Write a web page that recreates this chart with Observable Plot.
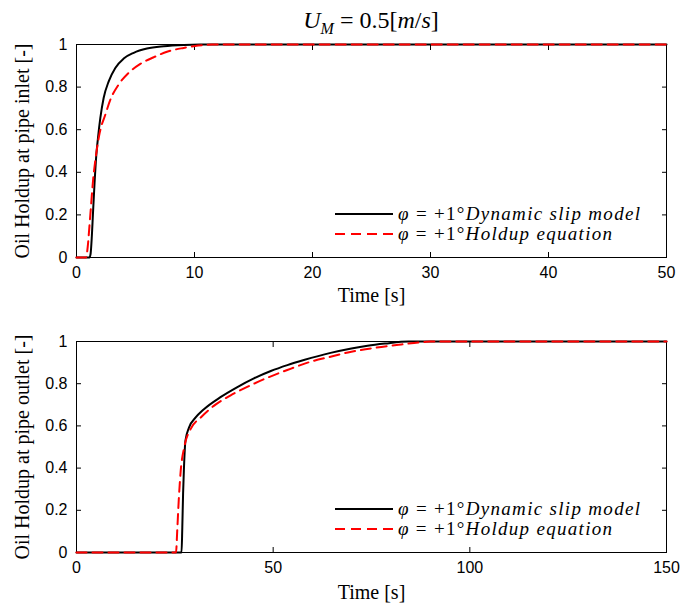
<!DOCTYPE html>
<html>
<head>
<meta charset="utf-8">
<script src="https://cdn.jsdelivr.net/npm/d3@7"></script>
<script src="https://cdn.jsdelivr.net/npm/@observablehq/plot@0.6"></script>
<style>
  html, body { margin: 0; padding: 0; background: #fff; }
  #root { position: relative; width: 683px; height: 612px; overflow: hidden; }
  #title { position: absolute; left: 0; top: 0; width: 742px; height: 36px; text-align: center;
           font-family: "Liberation Serif", serif; font-size: 24px; line-height: 40px; color: #000; }
  .plotbox { position: absolute; left: 0; }
  .legend { position: absolute; left: 330px; }
  svg { display: block; }
</style>
</head>
<body>
<div id="root">
  <div id="title"><i>U</i><sub style="font-size:16px"><i>M</i></sub> = 0.5[<i>m</i>/<i>s</i>]</div>
  <div id="p1" class="plotbox" style="top:36px"></div>
  <div id="p2" class="plotbox" style="top:318px"></div>
</div>
<script>
// ---------- data ----------
const seriesNames = ["Dynamic slip model", "Holdup equation"];

// top panel: pipe inlet
const inletTimeDyn = [0, 1.1, 1.2, 1.3, 1.39, 1.53, 1.68, 1.82, 2.02, 2.3, 2.73, 3.29, 4.0, 4.85, 5.97, 7.4, 9.1, 10.5, 50];
const inletHoldDyn = [0, 0, 0.02, 0.1, 0.2, 0.35, 0.482, 0.561, 0.655, 0.749, 0.827, 0.89, 0.934, 0.961, 0.981, 0.992, 0.998, 1, 1];
const inletTimeEq  = [0, 0.8, 0.95, 1.1, 1.2, 1.4, 1.68, 1.96, 2.44, 2.87, 3.57, 4.42, 5.41, 6.54, 7.67, 9.08, 10.3, 11.5, 50];
const inletHoldEq  = [0, 0, 0.05, 0.15, 0.22, 0.36, 0.49, 0.584, 0.67, 0.741, 0.812, 0.867, 0.909, 0.94, 0.966, 0.984, 0.995, 1, 1];

// bottom panel: pipe outlet
const outletTimeDyn = [0, 26.7, 26.9, 27.1, 27.3, 27.7, 28.6, 30.3, 32.4, 36.6, 40.9, 45.1, 49.4, 53.6, 57.8, 64.6, 69.9, 74, 78.4, 84.4, 150];
const outletHoldDyn = [0, 0, 0.12, 0.28, 0.39, 0.53, 0.592, 0.64, 0.679, 0.736, 0.784, 0.825, 0.86, 0.888, 0.912, 0.946, 0.967, 0.98, 0.99, 1, 1];
const outletTimeEq  = [0, 25.3, 25.6, 26.0, 26.5, 27.4, 29.0, 31.6, 34.9, 39.2, 43.4, 48.5, 53.6, 59.5, 64.6, 69, 75.8, 82.6, 88.5, 90, 150];
const outletHoldEq  = [0, 0, 0.1, 0.25, 0.388, 0.5, 0.585, 0.64, 0.695, 0.745, 0.785, 0.828, 0.865, 0.904, 0.928, 0.948, 0.97, 0.986, 0.998, 1, 1];

const inletXTicks = [0, 10, 20, 30, 40, 50];
const outletXTicks = [0, 50, 100, 150];
const yTicks = [0, 0.2, 0.4, 0.6, 0.8, 1];
const xLabel = "Time [s]";
const inletYLabel = "Oil Holdup at pipe inlet [-]";
const outletYLabel = "Oil Holdup at pipe outlet [-]";

// ---------- helpers ----------
const toRows = (ts, vs) => ts.map((t, i) => ({t, v: vs[i]}));
const serif = "Liberation Serif, serif";
const sans = "Liberation Sans, Arial, sans-serif";

function panel({xMax, xTicks, yLabel, dyn, eq, height, marginTop, marginBottom, xLabelDy}) {
  return Plot.plot({
    width: 683, height, marginLeft: 76, marginRight: 17, marginTop, marginBottom,
    style: {fontFamily: sans, fontSize: "16px", color: "#000", background: "#fff", overflow: "visible"},
    x: {domain: [0, xMax]},
    y: {domain: [0, 1]},
    marks: [
      Plot.frame({stroke: "#000", strokeWidth: 1}),
      // tick labels
      Plot.axisX(xTicks, {anchor: "bottom", tickSize: 0, tickPadding: 9, label: null, fontSize: 16}),
      Plot.axisY(yTicks, {anchor: "left", tickSize: 0, tickPadding: 9, label: null, fontSize: 16, tickFormat: d => String(d)}),
      // inward ticks on all four sides
      Plot.axisX(xTicks, {anchor: "bottom", tickSize: 5, dy: -5, text: null, label: null, strokeWidth: 1}),
      Plot.axisX(xTicks, {anchor: "top", tickSize: 5, dy: 5, text: null, label: null, strokeWidth: 1}),
      Plot.axisY(yTicks, {anchor: "left", tickSize: 5, dx: 5, text: null, label: null, strokeWidth: 1}),
      Plot.axisY(yTicks, {anchor: "right", tickSize: 5, dx: -5, text: null, label: null, strokeWidth: 1}),
      // axis titles
      Plot.text([xLabel], {frameAnchor: "bottom", lineAnchor: "middle", textAnchor: "middle", dy: xLabelDy, text: d => d, fontFamily: serif, fontSize: 20, fill: "#000"}),
      Plot.text([yLabel], {frameAnchor: "left", lineAnchor: "middle", textAnchor: "middle", dx: -54, rotate: -90, text: d => d, fontFamily: serif, fontSize: 20, fill: "#000"}),
      // curves
      Plot.line(dyn, {x: "t", y: "v", stroke: "#000", strokeWidth: 2, curve: "monotone-x"}),
      Plot.line(eq, {x: "t", y: "v", stroke: "#ff0000", strokeWidth: 2, strokeDasharray: "10,6", curve: "monotone-x"})
    ]
  });
}

function legend(top) {
  const ns = "http://www.w3.org/2000/svg";
  const div = document.createElement("div");
  div.className = "legend";
  div.style.top = top + "px";
  const rows = [
    {stroke: "#000", dash: null, name: seriesNames[0], len: 242},
    {stroke: "#ff0000", dash: "10,6", name: seriesNames[1], len: 214}
  ];
  const svg = document.createElementNS(ns, "svg");
  svg.setAttribute("width", 340); svg.setAttribute("height", 46);
  rows.forEach((r, i) => {
    const y = 10 + i * 20;
    const ln = document.createElementNS(ns, "line");
    ln.setAttribute("x1", 5); ln.setAttribute("x2", 63); ln.setAttribute("y1", y); ln.setAttribute("y2", y);
    ln.setAttribute("stroke", r.stroke); ln.setAttribute("stroke-width", 2);
    if (r.dash) ln.setAttribute("stroke-dasharray", r.dash);
    svg.appendChild(ln);
    const tx = document.createElementNS(ns, "text");
    tx.setAttribute("x", 68); tx.setAttribute("y", y + 6);
    tx.setAttribute("font-family", serif); tx.setAttribute("font-size", 19);
    tx.setAttribute("textLength", r.len); tx.setAttribute("lengthAdjust", "spacing");
    const a = document.createElementNS(ns, "tspan"); a.setAttribute("font-style", "italic"); a.textContent = "φ";
    const b = document.createElementNS(ns, "tspan"); b.textContent = " = +1°";
    const c = document.createElementNS(ns, "tspan"); c.setAttribute("font-style", "italic"); c.textContent = r.name;
    tx.appendChild(a); tx.appendChild(b); tx.appendChild(c);
    svg.appendChild(tx);
  });
  div.appendChild(svg);
  return div;
}

const p1 = panel({xMax: 50, xTicks: inletXTicks, yLabel: inletYLabel,
  dyn: toRows(inletTimeDyn, inletHoldDyn), eq: toRows(inletTimeEq, inletHoldEq),
  height: 282, marginTop: 8, marginBottom: 61, xLabelDy: 38});
const p2 = panel({xMax: 150, xTicks: outletXTicks, yLabel: outletYLabel,
  dyn: toRows(outletTimeDyn, outletHoldDyn), eq: toRows(outletTimeEq, outletHoldEq),
  height: 294, marginTop: 23, marginBottom: 60, xLabelDy: 40});
document.getElementById("p1").appendChild(p1);
document.getElementById("p2").appendChild(p2);
document.getElementById("root").appendChild(legend(204));
document.getElementById("root").appendChild(legend(499));
</script>
</body>
</html>
